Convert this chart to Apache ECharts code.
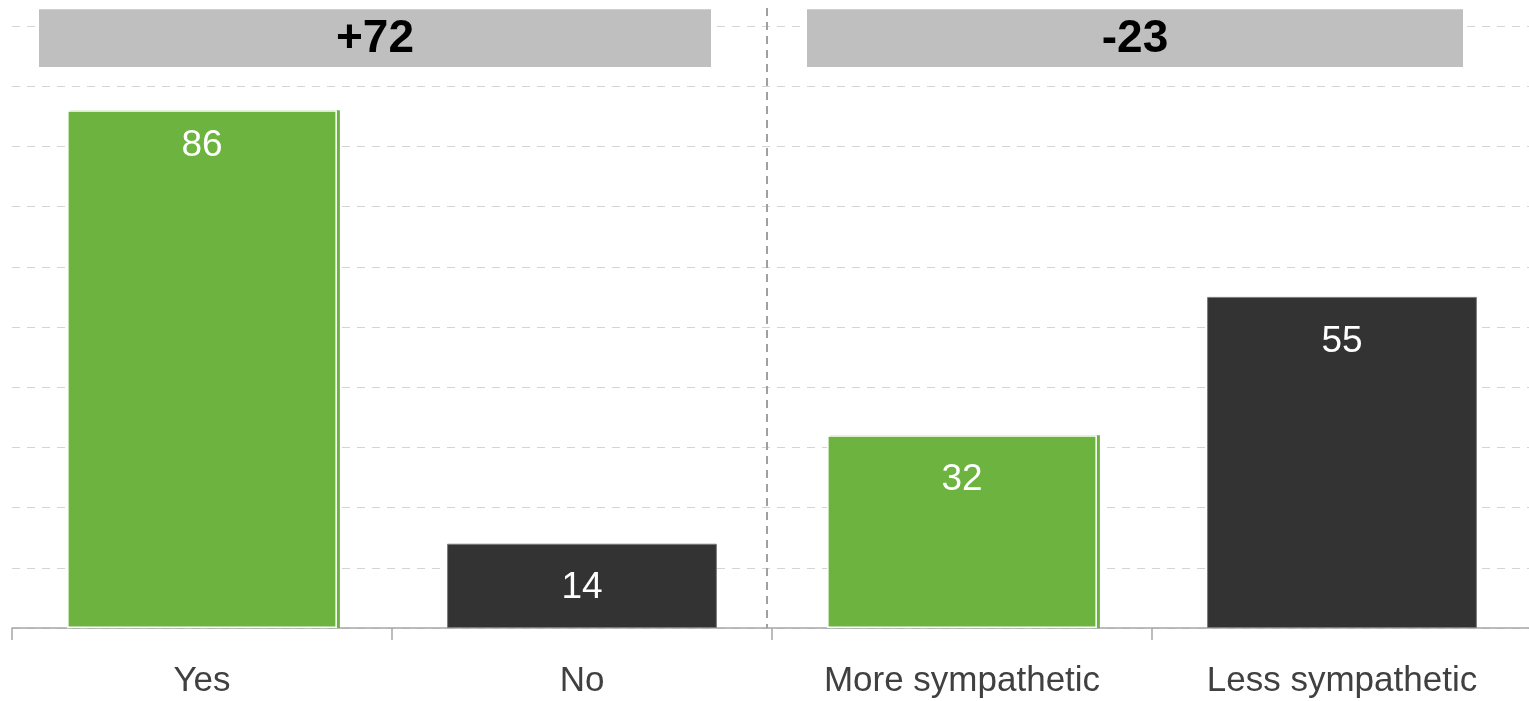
<!DOCTYPE html>
<html>
<head>
<meta charset="utf-8">
<script src="https://cdn.jsdelivr.net/npm/echarts@6/dist/echarts.min.js"></script>
<style>
html,body{margin:0;padding:0;background:#fff;}
#chart{width:1529px;height:701px;}
</style>
</head>
<body>
<div id="chart"></div>
<script>
const categories = ['Yes', 'No', 'More sympathetic', 'Less sympathetic'];
const values = [86, 14, 32, 55];
const netLabels = ['+72', '-23'];
const yTicks = [0, 10, 20, 30, 40, 50, 60, 70, 80, 90, 100];

const GREEN = '#6db33f';
const DARK = '#333333';
const FONT = '"Liberation Sans", Arial, sans-serif';

const chart = echarts.init(document.getElementById('chart'), null, {renderer: 'canvas'});

const seriesData = values.map((v, i) => {
  const pos = i % 2 === 0;
  return {
    value: v,
    itemStyle: pos ? {
      color: GREEN, borderColor: '#ffffff', borderWidth: 1.5,
      shadowColor: GREEN, shadowBlur: 0, shadowOffsetX: 3, shadowOffsetY: 0
    } : {
      color: DARK, borderColor: '#7a7a7a', borderWidth: 1
    },
    label: {distance: i === 0 ? 17 : 26}
  };
});

chart.setOption({
  animation: false,
  backgroundColor: '#ffffff',
  grid: {left: 12, top: 26, right: -3, height: 602, containLabel: false, outerBoundsMode: 'none'},
  xAxis: {
    type: 'category',
    data: categories,
    axisLine: {show: true, lineStyle: {color: '#a6a6a6', width: 1.5}},
    axisTick: {show: true, length: 12, lineStyle: {color: '#a6a6a6', width: 1.5}},
    axisLabel: {color: '#404040', fontSize: 35, fontFamily: FONT, margin: 36},
    splitLine: {show: false}
  },
  yAxis: {
    type: 'value',
    min: yTicks[0], max: yTicks[yTicks.length - 1], interval: yTicks[1] - yTicks[0],
    axisLine: {show: false}, axisTick: {show: false}, axisLabel: {show: false},
    splitLine: {show: true, lineStyle: {color: '#d4d4d4', width: 1.2, type: [8, 7]}}
  },
  series: [{
    type: 'bar',
    data: seriesData,
    barWidth: '71%',
    label: {
      show: true, position: 'insideTop', color: '#ffffff',
      fontSize: 37, fontFamily: FONT
    }
  }]
});

function buildGraphics() {
  const x0 = chart.convertToPixel({xAxisIndex: 0}, 0);
  const x1 = chart.convertToPixel({xAxisIndex: 0}, 1);
  const x3 = chart.convertToPixel({xAxisIndex: 0}, 3);
  const band = x1 - x0;
  const yTop = chart.convertToPixel({yAxisIndex: 0}, 102.8);
  const yBot = chart.convertToPixel({yAxisIndex: 0}, 93.2);
  const yAxisPx = chart.convertToPixel({yAxisIndex: 0}, 0);
  const groupStart = [x0 - band / 2, x1 + band / 2];
  const groupEnd = [x1 + band / 2, x3 + band / 2];
  const insets = [[27, 61], [35, 69]];
  const g = [];
  netLabels.forEach((t, k) => {
    const l = groupStart[k] + insets[k][0];
    const r = groupEnd[k] - insets[k][1];
    g.push({
      type: 'rect', shape: {x: l, y: yTop, width: r - l, height: yBot - yTop},
      style: {fill: '#bfbfbf'}, z: 10
    });
    g.push({
      type: 'text', x: (l + r) / 2, y: (yTop + yBot) / 2 + 1,
      style: {text: t, fill: '#000000', font: 'bold 46px ' + FONT, align: 'center', verticalAlign: 'middle'},
      z: 11
    });
  });
  const divX = x1 + band / 2 - 5;
  g.push({
    type: 'line', shape: {x1: divX, y1: 8, x2: divX, y2: yAxisPx},
    style: {stroke: '#a0a0a0', lineWidth: 2, lineDash: [8, 6]}, z: 9
  });
  chart.setOption({graphic: g});
}
buildGraphics();
</script>
</body>
</html>
